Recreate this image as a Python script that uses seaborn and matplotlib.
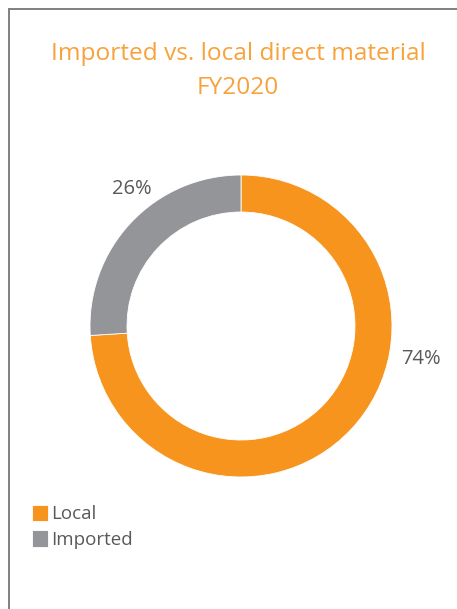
import seaborn as sns
import matplotlib
import matplotlib.pyplot as plt
from matplotlib.patches import Rectangle

matplotlib.use("Agg")

# data
labels = ["Local", "Imported"]
shares = [74, 26]
pct_text = ["74%", "26%"]
title = "Imported vs. local direct material\nFY2020"

sns.set_theme(style="white")
plt.rcParams['font.family'] = ['Open Sans', 'DejaVu Sans']

colors = sns.color_palette(["#F7941D", "#939598"])
text_grey = "#58595B"

W, H = 457, 609
fig = plt.figure(figsize=(W / 100, H / 100), dpi=100)
ax = fig.add_axes([0, 0, 1, 1])

# donut
wedges, _ = ax.pie(shares, colors=colors, startangle=90, counterclock=False,
                   center=(241, H - 326), radius=151,
                   wedgeprops=dict(width=37, edgecolor="white", linewidth=0.6))

ax.set_xlim(0, W)
ax.set_ylim(0, H)
ax.set_axis_off()

# percent labels
ax.text(421, H - 359, pct_text[0], ha="center", va="center", fontsize=14.5, color=text_grey)
ax.text(132, H - 189, pct_text[1], ha="center", va="center", fontsize=14.5, color=text_grey)

# title
ax.text(238, H - 71, title, ha="center", va="center", fontsize=17.6,
        color="#F8A23C", linespacing=1.6)

# frame (cropped on right/bottom)
ax.add_patch(Rectangle((9, -20), W + 20, H - 9 + 20, fill=False,
                       edgecolor="#808080", linewidth=1.4))

leg = ax.legend(wedges, labels, loc="upper left", bbox_to_anchor=(24 / W, 1 - 497 / H),
                frameon=False, fontsize=13.5, handlelength=0.9, handleheight=1.0,
                handletextpad=0.15, labelspacing=0.35, borderaxespad=0)
for t in leg.get_texts():
    t.set_color(text_grey)

fig.savefig("out.png", dpi=100)
plt.close()
